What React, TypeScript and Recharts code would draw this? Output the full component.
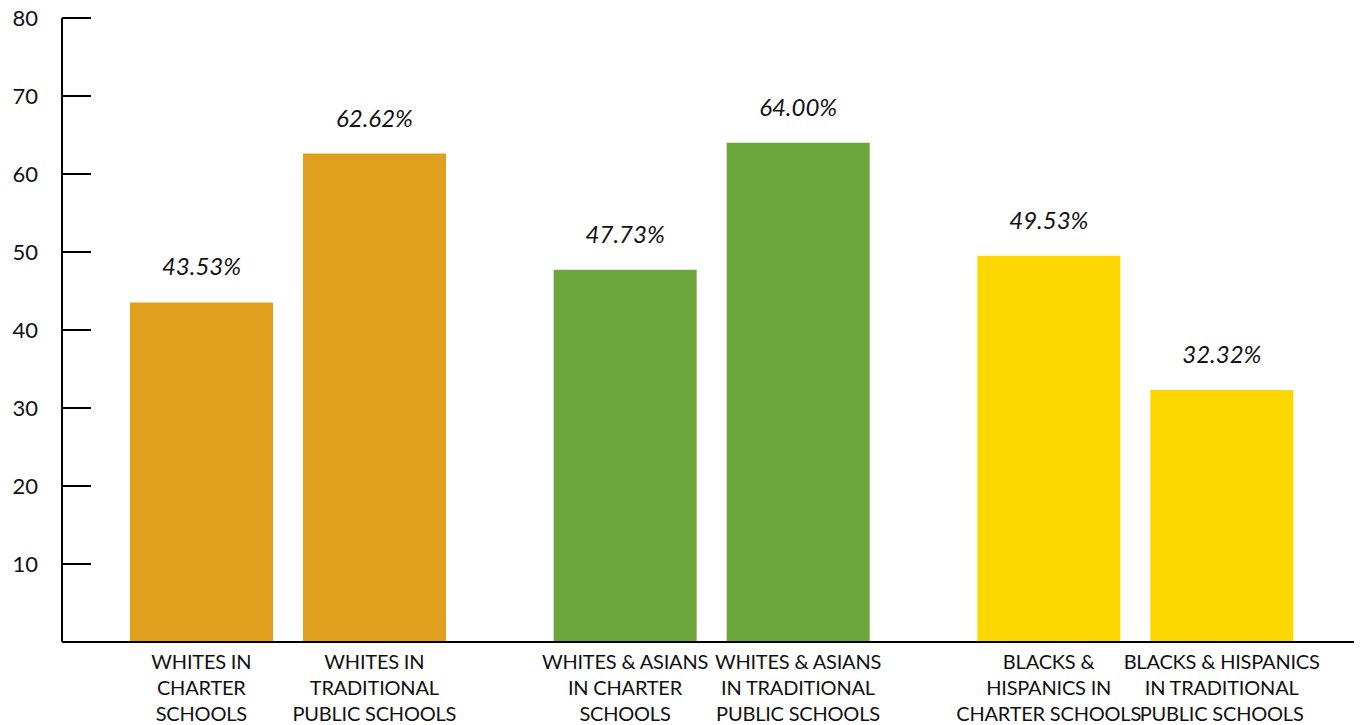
import React from 'react';
import { BarChart, Bar, XAxis, YAxis, Cell, LabelList } from 'recharts';

const groups = ['Whites', 'Whites & Asians', 'Blacks & Hispanics'];
const charter = [43.53, 47.73, 49.53];
const traditional = [62.62, 64.0, 32.32];
const groupColors = ['#E09F1C', '#6CA53A', '#FCD800'];
const charterLabels = [
  ['WHITES IN', 'CHARTER', 'SCHOOLS'],
  ['WHITES & ASIANS', 'IN CHARTER', 'SCHOOLS'],
  ['BLACKS &', 'HISPANICS IN', 'CHARTER SCHOOLS'],
];
const traditionalLabels = [
  ['WHITES IN', 'TRADITIONAL', 'PUBLIC SCHOOLS'],
  ['WHITES & ASIANS', 'IN TRADITIONAL', 'PUBLIC SCHOOLS'],
  ['BLACKS & HISPANICS', 'IN TRADITIONAL', 'PUBLIC SCHOOLS'],
];
const yTicks = [10, 20, 30, 40, 50, 60, 70, 80];

const data = groups.map((g, i) => ({
  name: g,
  charter: charter[i],
  traditional: traditional[i],
}));

const FONT = 'Lato, "Noto Sans", sans-serif';
const BAR = 143;
const GAP = 30;

const XTick = (props: any) => {
  const { x, y, index } = props;
  const half = BAR / 2 + GAP / 2;
  const block = (lines: string[], cx: number) =>
    lines.map((l, k) => (
      <text key={k} x={cx} y={y + 27 + k * 26} textAnchor="middle" fontSize={20} letterSpacing={-0.2} fontFamily={FONT} fill="#111">
        {l}
      </text>
    ));
  return (
    <g>
      {block(charterLabels[index], x - half)}
      {block(traditionalLabels[index], x + half)}
    </g>
  );
};

const YTick = (props: any) => {
  const { x, y, payload } = props;
  return (
    <g>
      <line x1={x} x2={x + 29} y1={y} y2={y} stroke="#000" strokeWidth={2} />
      <text x={x - 24} y={y + 8} textAnchor="end" fontSize={22} fontFamily={FONT} fill="#111">
        {payload.value}
      </text>
    </g>
  );
};

const ValueLabel = (props: any) => {
  const { x, y, width, value } = props;
  return (
    <text x={x + width / 2} y={y - 27} textAnchor="middle" fontSize={24} fontStyle="italic" fontFamily={FONT} fill="#111">
      {Number(value).toFixed(2)}%
    </text>
  );
};

export default function App() {
  return (
    <div style={{ margin: '-8px 0 0 -8px', background: '#fff', width: 1370, height: 725 }}>
      <BarChart
        width={1370}
        height={725}
        data={data}
        margin={{ top: 18, right: 16, left: 0, bottom: 0 }}
        barSize={BAR}
        barGap={GAP}
      >
        <XAxis
          dataKey="name"
          axisLine={{ stroke: '#000', strokeWidth: 2 }}
          tickLine={false}
          tickSize={0}
          tickMargin={0}
          padding={{ left: 14, right: 7 }}
          tick={<XTick />}
          interval={0}
          height={83}
        />
        <YAxis
          domain={[0, 80]}
          ticks={yTicks}
          width={62}
          axisLine={{ stroke: '#000', strokeWidth: 2 }}
          tickLine={false}
          tickSize={0}
          tickMargin={0}
          tick={<YTick />}
        />
        <Bar dataKey="charter" isAnimationActive={false}>
          {data.map((d, i) => (
            <Cell key={d.name} fill={groupColors[i]} />
          ))}
          <LabelList dataKey="charter" content={<ValueLabel />} />
        </Bar>
        <Bar dataKey="traditional" isAnimationActive={false}>
          {data.map((d, i) => (
            <Cell key={d.name} fill={groupColors[i]} />
          ))}
          <LabelList dataKey="traditional" content={<ValueLabel />} />
        </Bar>
      </BarChart>
    </div>
  );
}
